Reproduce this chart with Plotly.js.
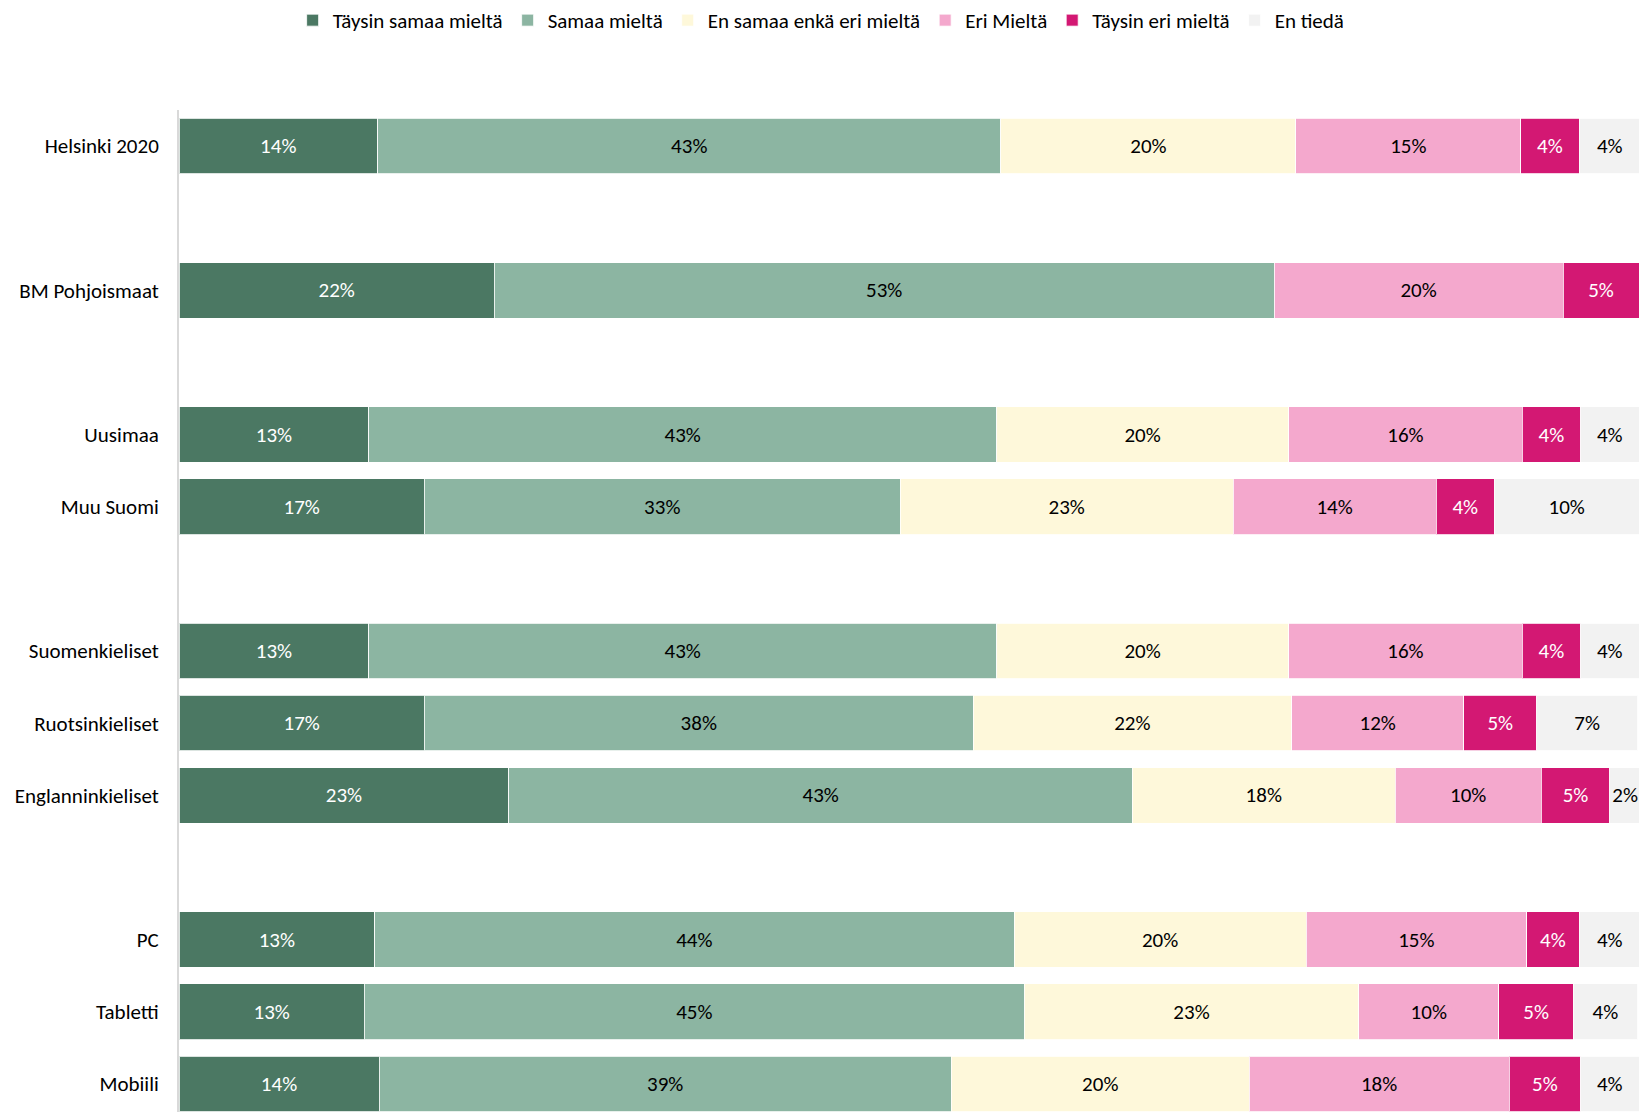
<!DOCTYPE html>
<html>
<head>
<meta charset="utf-8">
<script src="https://cdn.plot.ly/plotly-3.0.1.min.js"></script>
<style>html,body{margin:0;padding:0;background:#fff;}#chart{width:1639px;height:1112px;}</style>
</head>
<body>
<div id="chart"></div>
<script>
// Categories (blank strings are spacer rows between groups)
const categories = ["Helsinki 2020", " ", "BM Pohjoismaat", "  ", "Uusimaa", "Muu Suomi", "   ",
  "Suomenkieliset", "Ruotsinkieliset", "Englanninkieliset", "    ", "PC", "Tabletti", "Mobiili"];

const seriesNames = ["Täysin samaa mieltä", "Samaa mieltä", "En samaa enkä eri mieltä", "Eri Mieltä", "Täysin eri mieltä", "En tiedä"];

// Values in percent, one array per answer option, following the categories order
const taysinSamaa = [13.6, null, 21.6, null, 13.0, 16.8, null, 13.0, 16.8, 22.6, null, 13.4, 12.7, 13.7];
const samaa       = [42.7, null, 53.4, null, 43.0, 32.6, null, 43.0, 37.6, 42.7, null, 43.8, 45.2, 39.2];
const neutraali   = [20.2, null, null, null, 20.0, 22.8, null, 20.0, 21.8, 18.0, null, 20.0, 22.9, 20.4];
const eri         = [15.4, null, 19.8, null, 16.0, 13.9, null, 16.0, 11.8, 10.0, null, 15.1,  9.6, 17.8];
const taysinEri   = [ 4.0, null,  5.2, null,  4.0,  4.0, null,  4.0,  5.0,  4.7, null,  3.6,  5.1,  4.9];
const enTieda     = [ 4.2, null, null, null,  4.0,  9.9, null,  4.0,  6.9,  2.1, null,  4.2,  4.4,  4.0];

const seriesValues = [taysinSamaa, samaa, neutraali, eri, taysinEri, enTieda];
const colors = ["#4b7863", "#8cb5a2", "#fef8da", "#f4a8cd", "#d31873", "#f2f2f2"];
const textColors = ["#ffffff", "#000000", "#000000", "#000000", "#ffffff", "#000000"];

const FONT = "Carlito, 'Liberation Sans Narrow', 'Open Sans', sans-serif";

const traces = seriesValues.map((vals, i) => ({
  type: "bar",
  orientation: "h",
  name: seriesNames[i],
  y: categories,
  x: vals,
  text: vals.map(v => (v == null ? "" : Math.round(v) + "%")),
  textposition: "inside",
  insidetextanchor: "middle",
  constraintext: "none",
  textfont: {family: FONT, size: 21, color: textColors[i]},
  marker: {color: colors[i], line: {color: "rgba(255,255,255,0.8)", width: 1}},
  hoverinfo: "skip"
}));

const layout = {
  width: 1639,
  height: 1112,
  barmode: "stack",
  bargap: 0.23,
  paper_bgcolor: "#ffffff",
  plot_bgcolor: "#ffffff",
  margin: {l: 179, r: 0, t: 110, b: 0},
  font: {family: FONT, size: 21, color: "#000000"},
  showlegend: true,
  legend: {
    orientation: "h",
    xref: "container", yref: "container",
    x: 0.501, xanchor: "center",
    y: 1.0, yanchor: "top",
    font: {family: FONT, size: 21, color: "#000000"},
    traceorder: "normal",
    itemclick: false
  },
  xaxis: {
    range: [0, 100],
    showgrid: false, zeroline: false, showticklabels: false, showline: false, fixedrange: true
  },
  yaxis: {
    type: "category",
    categoryorder: "array",
    categoryarray: categories,
    range: [13.39, -0.5],
    showgrid: false, zeroline: false,
    showline: true, linecolor: "#d9d9d9", linewidth: 2,
    ticks: "outside", ticklen: 14, tickcolor: "rgba(0,0,0,0)",
    tickfont: {family: FONT, size: 21, color: "#000000"},
    fixedrange: true
  }
};

Plotly.newPlot("chart", traces, layout, {displayModeBar: false, staticPlot: true});
</script>
</body>
</html>
